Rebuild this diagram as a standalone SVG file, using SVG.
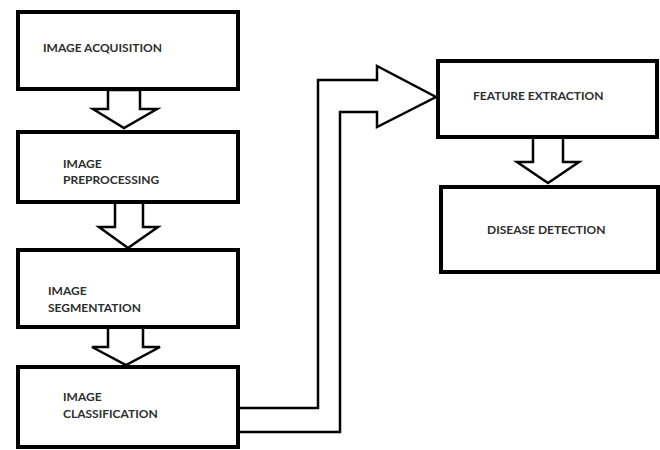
<svg xmlns="http://www.w3.org/2000/svg" width="660" height="450" viewBox="0 0 660 450">
  <style>
    .box { fill: #ffffff; stroke: #000000; stroke-width: 4; }
    .flow { fill: #ffffff; stroke: #000000; stroke-width: 2.5; stroke-linejoin: miter; }
    .label { font-family: Lato, "Liberation Sans", sans-serif; font-weight: bold; font-size: 12px; fill: #2e2e2e; }
  </style>
  <rect width="660" height="450" fill="#ffffff"/>

  <!-- connectors: hollow block arrows -->
  <g id="connectors">
    <polygon class="flow" points="108,90 140,90 140,109 157,109 124,128 93,109 108,109"/>
    <polygon class="flow" points="115,202 143,202 143,227 158,227 128,248 99,227 115,227"/>
    <polygon class="flow" points="108,327 143,327 143,347 160,347 126,365 92,347 108,347"/>
    <polygon class="flow" points="533,137 563,137 563,162 579,162 548,183 517,162 533,162"/>
    <polyline class="flow" points="238,408 318,408 318,80 377,80 377,66 436,97 377,127 377,112 340,112 340,432 238,432" fill="none"/>
  </g>

  <g id="image-acquisition">
    <rect class="box" x="18" y="12" width="220" height="77"/>
    <text class="label" x="43" y="52">IMAGE ACQUISITION</text>
  </g>

  <g id="image-preprocessing">
    <rect class="box" x="18" y="132" width="220" height="70"/>
    <text class="label" x="63" y="168">IMAGE</text>
    <text class="label" x="63" y="184">PREPROCESSING</text>
  </g>

  <g id="image-segmentation">
    <rect class="box" x="18" y="250" width="220" height="77"/>
    <text class="label" x="48" y="295">IMAGE</text>
    <text class="label" x="48" y="312">SEGMENTATION</text>
  </g>

  <g id="image-classification">
    <rect class="box" x="18" y="367" width="220" height="80"/>
    <text class="label" x="63" y="401">IMAGE</text>
    <text class="label" x="63" y="418">CLASSIFICATION</text>
  </g>

  <g id="feature-extraction">
    <rect class="box" x="438" y="61" width="219" height="76"/>
    <text class="label" x="473" y="100">FEATURE EXTRACTION</text>
  </g>

  <g id="disease-detection">
    <rect class="box" x="441" y="187" width="217" height="85"/>
    <text class="label" x="487" y="234">DISEASE DETECTION</text>
  </g>
</svg>
